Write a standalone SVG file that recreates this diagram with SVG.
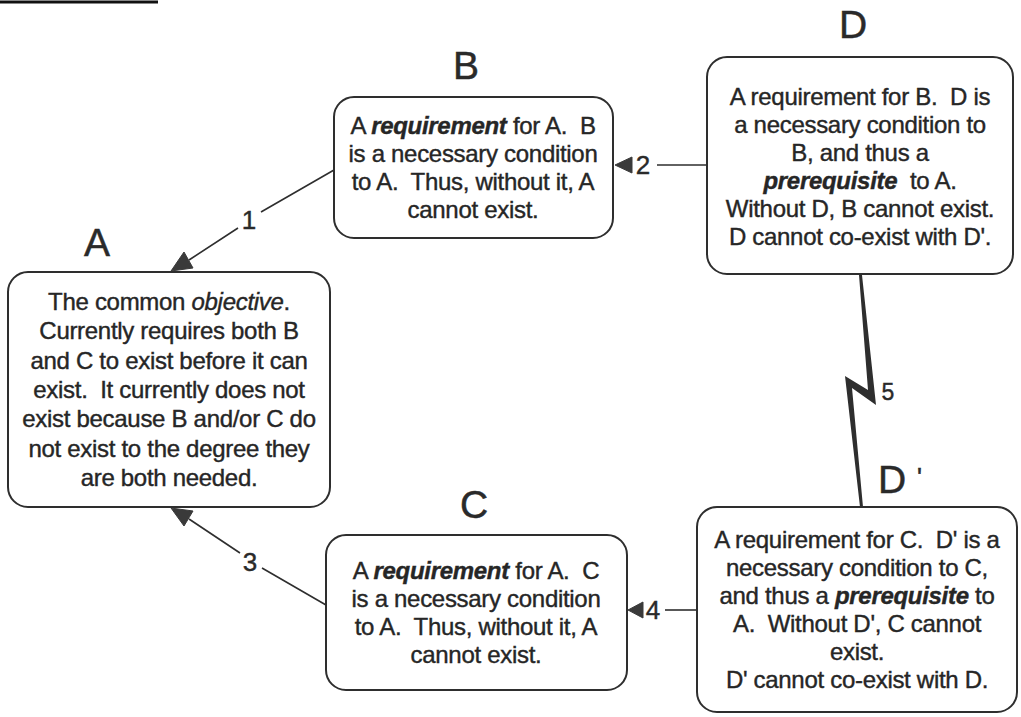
<svg xmlns="http://www.w3.org/2000/svg" width="1021" height="717" viewBox="0 0 1021 717">
  <style>
    .box { fill: #ffffff; stroke: #2e2e2e; stroke-width: 2; }
    .t { font-family: "Liberation Sans", Arial, sans-serif; font-size: 24px; letter-spacing: -0.3px; fill: #262626; stroke: #262626; stroke-width: 0.4; text-anchor: middle; white-space: pre; }
    .bi { font-weight: bold; font-style: italic; }
    .it { font-style: italic; }
    .lbl { font-family: "Liberation Sans", Arial, sans-serif; font-size: 39px; fill: #2a2a2a; stroke: #2a2a2a; stroke-width: 0.5; text-anchor: middle; }
    .num { font-family: "Liberation Sans", Arial, sans-serif; font-size: 26px; fill: #2a2a2a; stroke: #2a2a2a; stroke-width: 0.4; text-anchor: middle; }
    .ln { fill: none; stroke: #2e2e2e; stroke-width: 1.6; }
    .head { fill: #3a3a3a; stroke: #3a3a3a; stroke-width: 1; stroke-linejoin: round; }
  </style>
  <rect width="1021" height="717" fill="#ffffff"/>

  <!-- heading rule -->
  <line x1="0" y1="2" x2="158" y2="2" stroke="#111" stroke-width="3"/>

  <!-- connectors -->
  <g id="connectors">
    <!-- 1: B to A -->
    <path class="ln" d="M334,170 L261,212 M238,228 L189,260"/>
    <polygon class="head" points="171,271 193,268 184,252"/>
    <text class="num" x="249" y="229">1</text>
    <!-- 2: D to B -->
    <path class="ln" d="M707,165 L657,165"/>
    <polygon class="head" points="615,165 632,157 632,173"/>
    <text class="num" x="643" y="174">2</text>
    <!-- 3: C to A -->
    <path class="ln" d="M326,605 L262,568 M240,553 L189,519"/>
    <polygon class="head" points="171,508 193,511 184,526"/>
    <text class="num" x="250" y="571">3</text>
    <!-- 4: D' to C -->
    <path class="ln" d="M697,610 L665,610"/>
    <polygon class="head" points="628,610 643,602 643,618"/>
    <text class="num" x="653" y="619">4</text>
    <!-- 5: conflict between D and D' -->
    <polygon fill="#2e2e2e" points="862,275 876,405 852,388 863,507 860,507 845,376 868,390 859,275"/>
    <text class="num" x="888" y="400" style="font-size:23px">5</text>
  </g>

  <!-- A: objective -->
  <g id="node-a">
    <text class="lbl" x="97" y="256">A</text>
    <rect class="box" x="8" y="272" width="322" height="235" rx="20"/>
    <text class="t" x="169" y="310">The common <tspan class="it">objective</tspan>.</text>
    <text class="t" x="169" y="339">Currently requires both B</text>
    <text class="t" x="169" y="369">and C to exist before it can</text>
    <text class="t" x="169" y="398">exist.  It currently does not</text>
    <text class="t" x="169" y="427">exist because B and/or C do</text>
    <text class="t" x="169" y="457">not exist to the degree they</text>
    <text class="t" x="169" y="486">are both needed.</text>
  </g>

  <!-- B: requirement -->
  <g id="node-b">
    <text class="lbl" x="466" y="79">B</text>
    <rect class="box" x="334" y="97" width="279" height="141" rx="20"/>
    <text class="t" x="473" y="134">A <tspan class="bi">requirement</tspan> for A.  B</text>
    <text class="t" x="473" y="162">is a necessary condition</text>
    <text class="t" x="473" y="190">to A.  Thus, without it, A</text>
    <text class="t" x="473" y="218">cannot exist.</text>
  </g>

  <!-- D: prerequisite -->
  <g id="node-d">
    <text class="lbl" x="853" y="38">D</text>
    <rect class="box" x="707" y="57" width="306" height="217" rx="20"/>
    <text class="t" x="860" y="105">A requirement for B.  D is</text>
    <text class="t" x="860" y="133">a necessary condition to</text>
    <text class="t" x="860" y="161">B, and thus a</text>
    <text class="t" x="860" y="189"><tspan class="bi">prerequisite</tspan>  to A.</text>
    <text class="t" x="860" y="217">Without D, B cannot exist.</text>
    <text class="t" x="860" y="245">D cannot co-exist with D'.</text>
  </g>

  <!-- C: requirement -->
  <g id="node-c">
    <text class="lbl" x="474" y="518">C</text>
    <rect class="box" x="326" y="535" width="301" height="155" rx="20"/>
    <text class="t" x="476" y="579">A <tspan class="bi">requirement</tspan> for A.  C</text>
    <text class="t" x="476" y="607">is a necessary condition</text>
    <text class="t" x="476" y="635">to A.  Thus, without it, A</text>
    <text class="t" x="476" y="663">cannot exist.</text>
  </g>

  <!-- D': prerequisite -->
  <g id="node-d-prime">
    <text class="lbl" x="900" y="493">D<tspan font-size="26" dx="11" dy="-7">'</tspan></text>
    <rect class="box" x="697" y="507" width="320" height="205" rx="20"/>
    <text class="t" x="857" y="548">A requirement for C.  D' is a</text>
    <text class="t" x="857" y="576">necessary condition to C,</text>
    <text class="t" x="857" y="604">and thus a <tspan class="bi">prerequisite</tspan> to</text>
    <text class="t" x="857" y="632">A.  Without D', C cannot</text>
    <text class="t" x="857" y="660">exist.</text>
    <text class="t" x="857" y="688">D' cannot co-exist with D.</text>
  </g>
</svg>
